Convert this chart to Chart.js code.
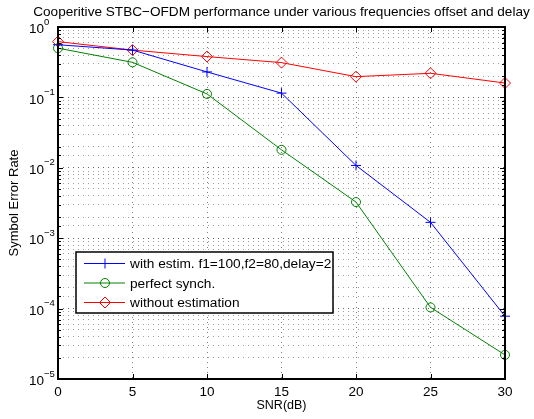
<!DOCTYPE html>
<html>
<head>
<meta charset="utf-8">
<script src="https://cdn.jsdelivr.net/npm/chart.js@4/dist/chart.umd.min.js"></script>
<style>
    html, body { margin: 0; padding: 0; background: #fff; }
    #wrap { width: 534px; height: 419px; position: relative; }
</style>
</head>
<body>
<div id="wrap"><canvas id="grafico"></canvas></div>
<script>
var titulo = 'Cooperitive STBC\u2212OFDM performance under various frequencies offset and delay';
var snr = [0, 5, 10, 15, 20, 25, 30];
var comEstimativa = [0.56, 0.47, 0.23, 0.115, 0.0108, 0.00168, 7.8e-5];
var sincPerfeita = [0.50, 0.315, 0.112, 0.018, 0.00326, 1.04e-4, 2.2e-5];
var semEstimativa = [0.62, 0.47, 0.38, 0.312, 0.197, 0.22, 0.16];
var nomesSeries = ['with estim. f1=100,f2=80,delay=2', 'perfect synch.', 'without estimation'];
var xTicks = [0, 5, 10, 15, 20, 25, 30];
var yDecadas = [0, -1, -2, -3, -4, -5];

var fonte = 'Liberation Sans, Arial, Helvetica, sans-serif';

function ehDecada(v) {
    var e = Math.log10(v);
    return Math.abs(e - Math.round(e)) < 1e-6;
}

function pontos(arr) {
    return snr.map((x, i) => ({ x: x, y: arr[i] }));
}

// moldura, marcas de tick para dentro, rotulos 10^n, titulo e legenda no estilo MATLAB
var molduraPlugin = {
    id: 'moldura',
    afterDraw(chart) {
        var ctx = chart.ctx;
        var a = chart.chartArea;
        var xs = chart.scales.x, ys = chart.scales.y;
        ctx.save();
        ctx.strokeStyle = '#000';
        ctx.lineWidth = 1;
        ctx.beginPath();
        ys.ticks.forEach(t => {
            var y = Math.round(ys.getPixelForValue(t.value)) + 0.5;
            var l = ehDecada(t.value) ? 5 : 3;
            ctx.moveTo(a.left, y); ctx.lineTo(a.left + l, y);
            ctx.moveTo(a.right, y); ctx.lineTo(a.right - l, y);
        });
        xs.ticks.forEach(t => {
            var x = Math.round(xs.getPixelForValue(t.value)) + 0.5;
            ctx.moveTo(x, a.bottom); ctx.lineTo(x, a.bottom - 5);
            ctx.moveTo(x, a.top); ctx.lineTo(x, a.top + 5);
        });
        ctx.stroke();
        ctx.lineWidth = 2;
        ctx.strokeRect(a.left, a.top, a.right - a.left, a.bottom - a.top);

        // rotulos do eixo y com expoente
        ctx.fillStyle = '#000';
        ctx.textBaseline = 'middle';
        yDecadas.forEach(d => {
            var y = ys.getPixelForValue(Math.pow(10, d));
            ctx.font = '13.5px ' + fonte;
            ctx.textAlign = 'right';
            ctx.fillText('10', a.left - 14, y + 2.5);
            ctx.font = '9.5px ' + fonte;
            ctx.textAlign = 'left';
            ctx.fillText(d < 0 ? '\u2212' + (-d) : String(d), a.left - 14, y - 5);
        });

        // titulo
        ctx.font = '13.6px ' + fonte;
        ctx.textAlign = 'center';
        ctx.fillText(titulo, (a.left + a.right) / 2, 12);

        // legenda
        var lx = 76, ly = 252, lw = 257, lh = 61;
        ctx.fillStyle = '#fff';
        ctx.fillRect(lx, ly, lw, lh);
        ctx.lineWidth = 1.5;
        ctx.strokeStyle = '#000';
        ctx.strokeRect(lx, ly, lw, lh);
        ctx.font = '13.7px ' + fonte;
        ctx.textAlign = 'left';
        chart.data.datasets.forEach((ds, i) => {
            var y = ly + 11.5 + i * 19.5;
            ctx.strokeStyle = ds.borderColor;
            ctx.fillStyle = 'rgba(0,0,0,0)';
            ctx.lineWidth = 1;
            ctx.beginPath();
            ctx.moveTo(lx + 8, y); ctx.lineTo(lx + 49, y);
            ctx.stroke();
            Chart.helpers.drawPoint(ctx, {
                pointStyle: ds.pointStyle, radius: ds.pointRadius, rotation: 0, borderWidth: 1
            }, lx + 29, y);
            ctx.fillStyle = '#000';
            ctx.fillText(ds.label, lx + 54, y + 1);
        });
        ctx.restore();
    }
};

var ctxGrafico = document.getElementById('grafico');

new Chart(ctxGrafico, {
    type: 'line',
    data: {
        datasets: [
            {
                label: nomesSeries[0],
                data: pontos(comEstimativa),
                borderColor: '#0000ff',
                backgroundColor: 'transparent',
                pointBackgroundColor: 'transparent',
                borderWidth: 1,
                pointStyle: 'cross',
                pointRadius: 5,
                pointBorderWidth: 1,
                clip: false,
            },
            {
                label: nomesSeries[1],
                data: pontos(sincPerfeita),
                borderColor: '#008000',
                backgroundColor: 'transparent',
                pointBackgroundColor: 'transparent',
                borderWidth: 1,
                pointStyle: 'circle',
                pointRadius: 4.5,
                pointBorderWidth: 1,
                clip: false,
            },
            {
                label: nomesSeries[2],
                data: pontos(semEstimativa),
                borderColor: '#ff0000',
                backgroundColor: 'transparent',
                pointBackgroundColor: 'transparent',
                borderWidth: 1,
                pointStyle: 'rectRot',
                pointRadius: 5.5,
                pointBorderWidth: 1,
                clip: false,
            }
        ]
    },
    options: {
        responsive: true,
        maintainAspectRatio: false,
        animation: false,
        layout: { padding: { top: 27, right: 29, left: 0, bottom: 0 } },
        plugins: {
            legend: { display: false },
            tooltip: { enabled: false }
        },
        scales: {
            x: {
                type: 'linear',
                min: 0,
                max: 30,
                afterBuildTicks: (s) => { s.ticks = xTicks.map(v => ({ value: v })); },
                afterFit: (s) => { s.height = 40; },
                ticks: { color: '#000', font: { family: fonte, size: 13.5 }, padding: 5, maxRotation: 0 },
                grid: { color: 'rgba(0,0,0,0.5)', drawTicks: false },
                border: { display: false, dash: [1, 4] },
                title: { display: true, text: 'SNR(dB)', color: '#000', font: { family: fonte, size: 12.5 }, padding: { top: 0, bottom: 6 } }
            },
            y: {
                type: 'logarithmic',
                min: 1e-5,
                max: 1,
                afterFit: (s) => { s.width = 58; },
                ticks: {
                    color: '#000',
                    font: { family: fonte, size: 13 },
                    padding: 4,
                    autoSkip: false,
                    callback: () => ''
                },
                grid: {
                    color: (c) => (c.tick && ehDecada(c.tick.value)) ? 'rgba(0,0,0,0.6)' : 'rgba(0,0,0,0.38)',
                    drawTicks: false
                },
                border: { display: false, dash: [1, 4] },
                title: { display: true, text: 'Symbol Error Rate', color: '#000', font: { family: fonte, size: 13 }, padding: { top: 7, bottom: 0 } }
            }
        }
    },
    plugins: [molduraPlugin]
});
</script>
</body>
</html>
